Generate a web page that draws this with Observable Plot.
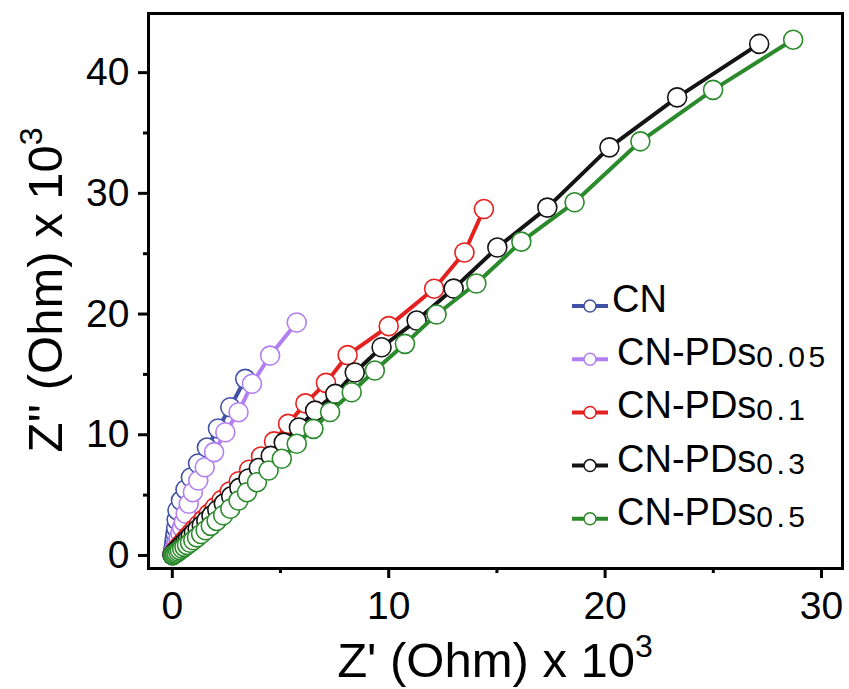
<!DOCTYPE html>
<html>
<head>
<meta charset="utf-8">
<script src="https://cdn.jsdelivr.net/npm/d3@7"></script>
<script src="https://cdn.jsdelivr.net/npm/@observablehq/plot@0.6"></script>
<style>
  html, body { margin: 0; padding: 0; background: #fff; }
  svg { display: block; }
</style>
</head>
<body>
<div id="chart"></div>
<script>
// ---- data (Z' and Z'' in kOhm), ordered from high frequency (origin) outward ----
const seriesNames = ["CN", "CN-PDs0.05", "CN-PDs0.1", "CN-PDs0.3", "CN-PDs0.5"];
const seriesSubs = ["", "0.05", "0.1", "0.3", "0.5"];
const seriesColors = ["#4152a6", "#b27ef2", "#e4211f", "#141414", "#2b8a2b"];

const cnX = [0.01,0.02,0.04,0.06,0.08,0.10,0.12,0.15,0.18,0.20,0.24,0.40,0.61,0.86,1.19,1.60,2.11,2.68,3.37];
const cnY = [0.08,0.20,0.36,0.56,0.80,1.08,1.42,1.82,2.28,2.95,3.73,4.55,5.47,6.46,7.62,8.94,10.52,12.28,14.63];

const pd005X = [0.02,0.04,0.07,0.11,0.16,0.22,0.29,0.37,0.45,0.53,0.62,0.76,0.95,1.20,1.50,1.93,2.45,3.06,3.68,4.52,5.75];
const pd005Y = [0.08,0.20,0.35,0.55,0.80,1.10,1.45,1.85,2.30,2.80,3.45,4.28,5.24,6.21,7.31,8.56,10.21,11.87,14.22,16.56,19.30];

const pd01X = [0.02,0.07,0.13,0.20,0.28,0.37,0.47,0.58,0.71,0.86,1.02,1.21,1.43,1.68,1.96,2.28,2.65,3.07,3.55,4.10,4.70,5.35,6.15,7.10,8.10,10.0,12.1,13.5,14.4];
const pd01Y = [0.07,0.20,0.35,0.51,0.68,0.87,1.07,1.30,1.56,1.85,2.18,2.55,2.97,3.45,3.98,4.60,5.30,6.15,7.10,8.20,9.45,10.9,12.6,14.3,16.6,19.0,22.1,25.1,28.7];

const pd03X = [0.01,0.05,0.10,0.16,0.23,0.31,0.40,0.49,0.60,0.72,0.85,1.00,1.17,1.36,1.57,1.81,2.08,2.38,2.72,3.10,3.52,4.00,4.55,5.15,5.85,6.60,7.53,8.43,9.67,11.29,13.0,15.02,17.33,20.20,23.33,27.12];
const pd03Y = [0.03,0.12,0.23,0.35,0.48,0.62,0.78,0.95,1.14,1.36,1.60,1.87,2.17,2.50,2.88,3.30,3.77,4.30,4.90,5.60,6.38,7.25,8.25,9.35,10.6,12.0,13.39,15.16,17.25,19.46,22.11,25.51,28.82,33.81,37.95,42.38];

const pd05X = [0.02,0.06,0.12,0.19,0.27,0.35,0.45,0.56,0.68,0.82,0.97,1.14,1.33,1.54,1.78,2.05,2.35,2.68,3.06,3.45,3.91,4.45,5.06,5.75,6.52,7.29,8.29,9.36,10.75,12.21,14.05,16.13,18.59,21.63,24.99,28.69];
const pd05Y = [0.02,0.08,0.15,0.23,0.33,0.44,0.57,0.71,0.87,1.05,1.26,1.50,1.78,2.09,2.45,2.86,3.33,3.87,4.55,5.24,6.07,7.04,8.01,9.25,10.49,11.88,13.52,15.32,17.53,19.96,22.53,26.0,29.26,34.31,38.57,42.73];

const xTicks = [0, 10, 20, 30];
const xMinor = [5, 15, 25];
const yTicks = [0, 10, 20, 30, 40];
const yMinor = [5, 15, 25, 35];

// ---- build tables ----
const allX = [cnX, pd005X, pd01X, pd03X, pd05X];
const allY = [cnY, pd005Y, pd01Y, pd03Y, pd05Y];
const tables = allX.map((xs, i) => xs.map((x, j) => ({series: seriesNames[i], x, y: allY[i][j]})));

const font = "'Liberation Sans', Arial, Helvetica, sans-serif";

const seriesMarks = [];
tables.forEach((t, i) => {
  seriesMarks.push(Plot.line(t, {x: "x", y: "y", stroke: seriesColors[i], strokeWidth: 4}));
  seriesMarks.push(Plot.dot(t, {x: "x", y: "y", r: 9.5, stroke: seriesColors[i], fill: "white", strokeWidth: 1.6}));
});

const svg = Plot.plot({
  width: 849,
  height: 689,
  marginLeft: 148,
  marginRight: 7,
  marginTop: 13,
  marginBottom: 121,
  style: {fontFamily: font, background: "white", color: "black"},
  x: {domain: [-1.1, 30.97]},
  y: {domain: [-1.08, 44.9]},
  marks: [
    ...seriesMarks,
    Plot.axisX({ticks: xTicks, tickSize: 10, tickPadding: 13, fontSize: 39, strokeWidth: 3, label: null, tickFormat: d => String(d)}),
    Plot.axisX({ticks: xMinor, tickSize: 5, strokeWidth: 3, label: null, tickFormat: () => ""}),
    Plot.axisY({ticks: yTicks, tickSize: 10, tickPadding: 9, fontSize: 39, strokeWidth: 3, label: null, tickFormat: d => String(d)}),
    Plot.axisY({ticks: yMinor, tickSize: 5, strokeWidth: 3, label: null, tickFormat: () => ""}),
    Plot.frame({stroke: "black", strokeWidth: 3})
  ]
});

const root = d3.select(svg);

// axis titles
const xl = root.append("text")
  .attr("x", 495).attr("y", 677)
  .attr("text-anchor", "middle")
  .attr("font-family", font).attr("font-size", 49).attr("fill", "black");
xl.append("tspan").text("Z' (Ohm) x 10");
xl.append("tspan").attr("font-size", 32).attr("dy", -20).text("3");

const yl = root.append("text")
  .attr("transform", "translate(62,290) rotate(-90)")
  .attr("text-anchor", "middle")
  .attr("font-family", font).attr("font-size", 49).attr("fill", "black");
yl.append("tspan").text("Z'' (Ohm) x 10");
yl.append("tspan").attr("font-size", 32).attr("dy", -20).text("3");

// legend
const lg = root.append("g").attr("text-anchor", "start");
seriesNames.forEach((name, i) => {
  const cy = 306 + i * 53.2;
  lg.append("line").attr("x1", 572).attr("x2", 608).attr("y1", cy).attr("y2", cy)
    .attr("stroke", seriesColors[i]).attr("stroke-width", 4);
  lg.append("circle").attr("cx", 590).attr("cy", cy).attr("r", 6)
    .attr("fill", "white").attr("stroke", seriesColors[i]).attr("stroke-width", 1.5);
  const t = lg.append("text")
    .attr("x", i === 0 ? 612 : 617).attr("y", cy + 6)
    .attr("text-anchor", "start")
    .attr("font-family", font).attr("font-size", 38).attr("fill", "black");
  const main = seriesSubs[i] ? name.slice(0, name.length - seriesSubs[i].length) : name;
  t.append("tspan").text(main);
  if (seriesSubs[i]) {
    t.append("tspan").attr("font-size", 30).attr("dy", 2).attr("letter-spacing", 3.5).text(seriesSubs[i]);
  }
});

document.getElementById("chart").appendChild(svg);
</script>
</body>
</html>
